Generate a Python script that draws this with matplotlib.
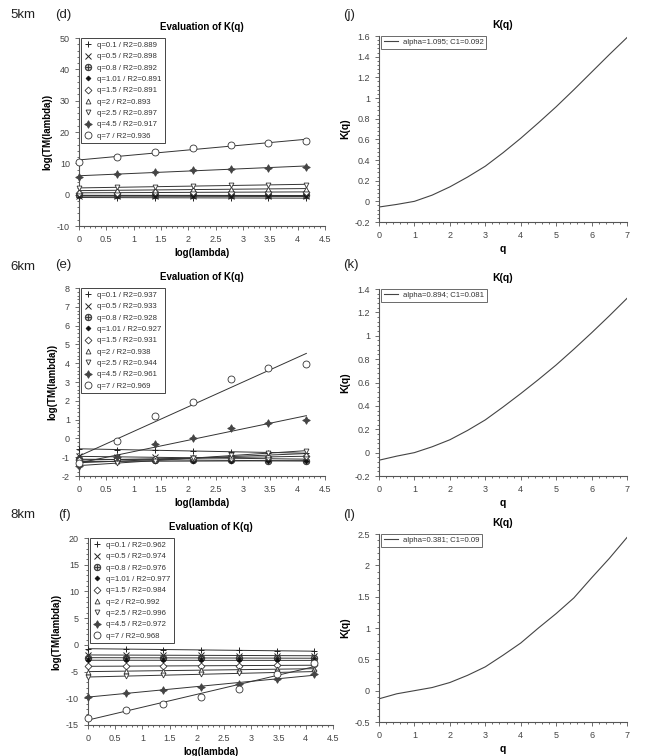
import numpy as np
import matplotlib
matplotlib.use("Agg")
import matplotlib.pyplot as plt
from matplotlib.ticker import AutoMinorLocator

plt.rcParams["font.family"] = ["Liberation Sans", "DejaVu Sans"]
plt.rcParams["axes.unicode_minus"] = False

# log(lambda) scales
log_lam = [0, 0.693, 1.386, 2.079, 2.773, 3.466, 4.159]
q_moments = ["0.1", "0.5", "0.8", "1.01", "1.5", "2", "2.5", "4.5", "7"]

# log(TM(lambda)) per q, 5km
tm_5km = [
    [-0.9, -0.95, -1.0, -1.0, -1.05, -1.1, -1.1],
    [-0.45, -0.5, -0.5, -0.52, -0.55, -0.58, -0.58],
    [-0.2, -0.2, -0.22, -0.23, -0.24, -0.25, -0.26],
    [0.0, 0.0, 0.0, 0.0, 0.0, 0.0, 0.0],
    [0.55, 0.65, 0.7, 0.75, 0.8, 0.85, 0.85],
    [1.25, 1.4, 1.55, 1.65, 1.75, 1.85, 1.9],
    [2.0, 2.4, 2.6, 2.85, 3.0, 3.1, 3.2],
    [5.7, 6.6, 7.3, 7.8, 8.3, 8.6, 8.9],
    [10.5, 12.0, 13.7, 15.0, 16.0, 16.5, 17.0],
]
r2_5km = ["0.889", "0.898", "0.892", "0.891", "0.891", "0.893", "0.897", "0.917", "0.936"]

# 6km
tm_6km = [
    [-0.55, -0.6, -0.62, -0.67, -0.72, -0.75, -0.78],
    [-0.95, -0.98, -1.0, -1.05, -1.05, -1.08, -1.1],
    [-1.1, -1.12, -1.15, -1.15, -1.17, -1.18, -1.2],
    [-1.25, -1.2, -1.22, -1.2, -1.18, -1.2, -1.2],
    [-1.15, -1.12, -1.08, -1.05, -1.02, -0.98, -0.95],
    [-1.3, -1.2, -1.15, -1.05, -0.95, -0.88, -0.82],
    [-1.45, -1.3, -1.2, -1.05, -0.9, -0.78, -0.66],
    [-1.45, -1.0, -0.28, 0.04, 0.55, 0.84, 0.96],
    [-1.3, -0.14, 1.19, 1.94, 3.14, 3.74, 3.96],
]
r2_6km = ["0.937", "0.933", "0.928", "0.927", "0.931", "0.938", "0.944", "0.961", "0.969"]

# 8km
tm_8km = [
    [-0.7, -0.8, -0.9, -0.95, -1.0, -1.1, -1.2],
    [-1.9, -1.9, -1.95, -1.95, -2.0, -2.0, -2.05],
    [-2.4, -2.4, -2.45, -2.45, -2.45, -2.5, -2.5],
    [-2.85, -2.9, -2.9, -2.9, -2.9, -2.9, -2.9],
    [-4.0, -4.0, -3.95, -3.9, -3.9, -3.85, -3.8],
    [-5.0, -4.9, -4.85, -4.75, -4.65, -4.55, -4.45],
    [-6.0, -5.85, -5.7, -5.5, -5.35, -5.15, -5.0],
    [-9.7, -9.0, -8.4, -7.9, -7.3, -6.3, -5.5],
    [-13.6, -12.1, -11.0, -9.7, -8.3, -5.4, -3.4],
]
r2_8km = ["0.962", "0.974", "0.976", "0.977", "0.984", "0.992", "0.996", "0.972", "0.968"]

# K(q) curves
q_grid = [0, 0.5, 1, 1.5, 2, 2.5, 3, 3.5, 4, 4.5, 5, 5.5, 6, 6.5, 7]
kq_5km = [-0.055, -0.03, 0.0, 0.06, 0.14, 0.235, 0.34, 0.47, 0.61, 0.76, 0.915, 1.08, 1.25, 1.42, 1.585]
kq_6km = [-0.065, -0.03, 0.0, 0.05, 0.11, 0.19, 0.28, 0.39, 0.505, 0.625, 0.75, 0.885, 1.025, 1.17, 1.32]
kq_8km = [-0.13, -0.05, 0.0, 0.05, 0.13, 0.245, 0.38, 0.565, 0.76, 1.0, 1.23, 1.48, 1.8, 2.11, 2.445]

markers = [
    dict(marker="+", ms=5, mfc="none", mec="#222", mew=0.7),
    dict(marker="x", ms=4.5, mfc="none", mec="#222", mew=0.7),
    dict(marker=r"$\oplus$", ms=5, mfc="#333", mec="#333", mew=0.3),
    dict(marker="D", ms=2.5, mfc="#111", mec="#111", mew=0.5),
    dict(marker="D", ms=3.5, mfc="white", mec="#333", mew=0.6),
    dict(marker="^", ms=3.5, mfc="white", mec="#333", mew=0.6),
    dict(marker="v", ms=3.5, mfc="white", mec="#333", mew=0.6),
    dict(marker=(4, 1, 0), ms=5.5, mfc="#444", mec="#444", mew=0.6),
    dict(marker="o", ms=5, mfc="white", mec="#333", mew=0.6),
]

W, H = 669, 756
fig = plt.figure(figsize=(W / 100, H / 100), dpi=100)


def axes_px(left, right, top, bottom):
    return fig.add_axes([left / W, 1 - bottom / H, (right - left) / W, (bottom - top) / H])


def style(ax):
    for s in ["top", "right"]:
        ax.spines[s].set_visible(False)
    for s in ["left", "bottom"]:
        ax.spines[s].set_color("#555")
        ax.spines[s].set_linewidth(0.8)
    ax.tick_params(which="both", direction="out", colors="#555", labelsize=6.5,
                   labelcolor="#444", width=0.6)
    ax.tick_params(which="major", length=3)
    ax.tick_params(which="minor", length=1.5)
    ax.xaxis.set_minor_locator(AutoMinorLocator(5))
    ax.yaxis.set_minor_locator(AutoMinorLocator(5))


def tm_panel(ax, data, r2, ylim, yticks):
    x = np.array(log_lam)
    for i, y in enumerate(data):
        k, c = np.polyfit(x, y, 1)
        ax.plot([x[0], x[-1]], [c, c + k * x[-1]], color="#333", lw=0.7, zorder=2)
    for i, y in enumerate(data):
        ax.plot(x, y, ls="none", label="q=%s / R2=%s" % (q_moments[i], r2[i]),
                zorder=3, clip_on=False, **markers[i])
    ax.set_xlim(0, 4.5)
    ax.set_ylim(*ylim)
    ax.set_yticks(yticks)
    ax.set_xticks([0, 0.5, 1, 1.5, 2, 2.5, 3, 3.5, 4, 4.5])
    ax.set_xticklabels(["0", "0.5", "1", "1.5", "2", "2.5", "3", "3.5", "4", "4.5"])
    ax.set_title("Evaluation of K(q)", fontsize=7, fontweight="bold", pad=6)
    ax.set_xlabel("log(lambda)", fontsize=7, fontweight="bold", labelpad=3)
    ax.set_ylabel("log(TM(lambda))", fontsize=7, fontweight="bold", labelpad=3)
    leg = ax.legend(loc="upper left", bbox_to_anchor=(0.008, 1.0), fontsize=5.6,
                    frameon=True, fancybox=False, edgecolor="#444", borderpad=0.45,
                    labelspacing=0.5, handletextpad=0.6, handlelength=1.0,
                    borderaxespad=0, labelcolor="#333", framealpha=1)
    leg.get_frame().set_linewidth(0.7)
    leg.set_zorder(10)
    style(ax)


def kq_panel(ax, kq, label, ylim, yticks):
    ax.plot(q_grid, kq, color="#444", lw=0.8, label=label)
    ax.set_xlim(0, 7)
    ax.set_ylim(*ylim)
    ax.set_yticks(yticks)
    ax.set_title("K(q)", fontsize=7.5, fontweight="bold", pad=6)
    ax.set_xlabel("q", fontsize=7.5, fontweight="bold", labelpad=3)
    ax.set_ylabel("K(q)", fontsize=7.5, fontweight="bold", labelpad=3)
    leg = ax.legend(loc="upper left", bbox_to_anchor=(0.01, 1.0), fontsize=5.6,
                    frameon=True, fancybox=False, edgecolor="#444", borderpad=0.35,
                    handlelength=1.8, handletextpad=0.6, borderaxespad=0, labelcolor="#333")
    leg.get_frame().set_linewidth(0.7)
    style(ax)
    ax.yaxis.set_major_formatter(plt.FuncFormatter(lambda v, p: "%g" % round(v, 2)))


ax_d = axes_px(79, 325, 38, 226)
tm_panel(ax_d, tm_5km, r2_5km, (-10, 50), [-10, 0, 10, 20, 30, 40, 50])
ax_e = axes_px(79, 325, 288, 476)
tm_panel(ax_e, tm_6km, r2_6km, (-2, 8), list(range(-2, 9)))
ax_f = axes_px(88, 333, 538, 725)
tm_panel(ax_f, tm_8km, r2_8km, (-15, 20), [-15, -10, -5, 0, 5, 10, 15, 20])

ax_j = axes_px(379, 627, 36, 222)
kq_panel(ax_j, kq_5km, "alpha=1.095; C1=0.092", (-0.2, 1.6),
         [-0.2, 0, 0.2, 0.4, 0.6, 0.8, 1, 1.2, 1.4, 1.6])
ax_k = axes_px(379, 627, 289, 476)
kq_panel(ax_k, kq_6km, "alpha=0.894; C1=0.081", (-0.2, 1.4),
         [-0.2, 0, 0.2, 0.4, 0.6, 0.8, 1, 1.2, 1.4])
ax_l = axes_px(379, 627, 534, 722)
kq_panel(ax_l, kq_8km, "alpha=0.381; C1=0.09", (-0.5, 2.5),
         [-0.5, 0, 0.5, 1, 1.5, 2, 2.5])

# panel tags
for txt, x, y in [("5km", 10, 15), ("(d)", 55, 15), ("(j)", 343, 15),
                  ("6km", 10, 267), ("(e)", 55, 265), ("(k)", 343, 265),
                  ("8km", 10, 515), ("(f)", 58, 515), ("(l)", 343, 515)]:
    fig.text(x / W, 1 - y / H, txt, fontsize=9.5, va="center", ha="left", color="#222")

fig.savefig("out.png", dpi=100)
